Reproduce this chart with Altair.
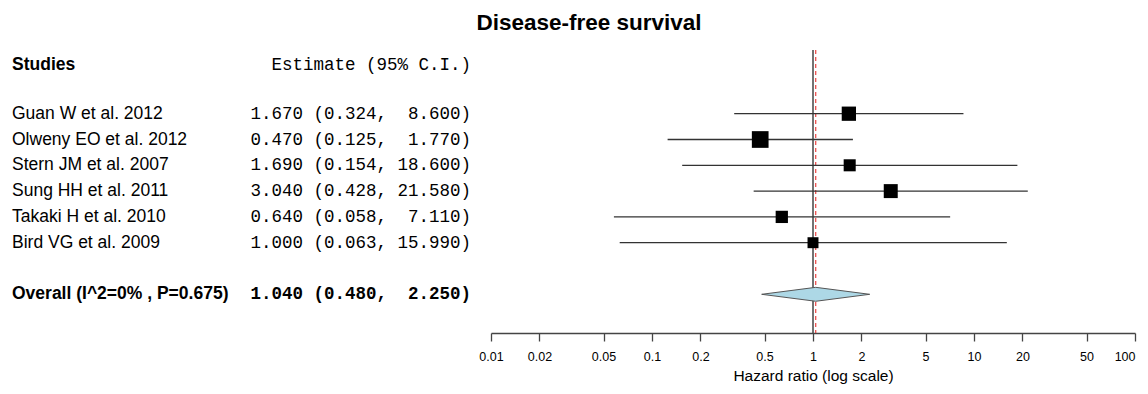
import altair as alt
import pandas as pd

studies = ["Guan W et al. 2012", "Olweny EO et al. 2012", "Stern JM et al. 2007",
           "Sung HH et al. 2011", "Takaki H et al. 2010", "Bird VG et al. 2009"]
estimate = [1.670, 0.470, 1.690, 3.040, 0.640, 1.000]
lower = [0.324, 0.125, 0.154, 0.428, 0.058, 0.063]
upper = [8.600, 1.770, 18.600, 21.580, 7.110, 15.990]
weight = [7.3, 10.0, 5.2, 7.0, 5.4, 4.3]

overall_label = "Overall (I^2=0% , P=0.675)"
overall_est, overall_lo, overall_hi = 1.040, 0.480, 2.250
overall_row = 7

ticks = [0.01, 0.02, 0.05, 0.1, 0.2, 0.5, 1, 2, 5, 10, 20, 50, 100]

NB = "\u00a0"


def ci_text(e, lo, hi):
    return f"{e:.3f} ({lo:.3f}, {hi:>6.3f})".replace(" ", NB)


df = pd.DataFrame({
    "study": studies, "est": estimate, "lo": lower, "hi": upper,
    "w": weight, "row": list(range(len(studies))),
})
df["ci"] = [ci_text(e, l, h) for e, l, h in zip(estimate, lower, upper)]

ov = pd.DataFrame({"study": [overall_label], "row": [overall_row],
                   "ci": [ci_text(overall_est, overall_lo, overall_hi)],
                   "est": [overall_est]})

dh = 0.27
diamond = pd.DataFrame({
    "x": [overall_lo, overall_est, overall_hi],
    "y1": [overall_row, overall_row - dh, overall_row],
    "y2": [overall_row, overall_row + dh, overall_row],
})

ref = pd.DataFrame({"x": [1.0]})

W, H = 1132, 325
xs = alt.Scale(type="log", domain=[0.01, 100], range=[483, 1127])
ys = alt.Scale(domain=[-4.097, 8.5], reverse=True, zero=False, nice=False)

SANS = "Liberation Sans"
MONO = "Liberation Mono"

xaxis = alt.Axis(values=ticks, format="~g", title="Hazard ratio (log scale)",
                 grid=False, tickSize=8, tickColor="#444", domainColor="#444",
                 domainWidth=1.3, tickWidth=1.3, labelFont=SANS, labelFontSize=12.5,
                 labelColor="#000", labelPadding=9, titleFont=SANS, titleFontSize=15.5,
                 titleFontWeight="normal", titleColor="#000", titlePadding=6,
                 labelFlush=False, labelOverlap=False,
                 labelAlign={"condition": {"test": "datum.value >= 99", "value": "right"},
                             "value": "center"})

base_x = alt.X("x:Q", scale=xs, axis=xaxis)

vline = alt.Chart(ref).mark_rule(color="#444", strokeWidth=1.5).encode(
    x=base_x, y=alt.value(42), y2=alt.value(H))

redline = alt.Chart(ov).mark_rule(color="#e8312f", strokeWidth=1.1, strokeDash=[4, 3]).encode(
    x=alt.X("est:Q", scale=xs), y=alt.value(42), y2=alt.value(H))

bars = alt.Chart(df).mark_rule(color="#333", strokeWidth=1.3).encode(
    x=alt.X("lo:Q", scale=xs), x2="hi:Q",
    y=alt.Y("row:Q", scale=ys, axis=None))

squares = alt.Chart(df).mark_square(color="#000", opacity=1, filled=True).encode(
    x=alt.X("est:Q", scale=xs),
    y=alt.Y("row:Q", scale=ys),
    size=alt.Size("w:Q", scale=alt.Scale(domain=[0, 10], range=[0, 279]), legend=None))

dia = alt.Chart(diamond).mark_area(color="#add8e6", stroke="#555", strokeWidth=1,
                                   opacity=1).encode(
    x=alt.X("x:Q", scale=xs), y=alt.Y("y1:Q", scale=ys), y2="y2:Q")

labels = alt.Chart(df).mark_text(align="left", baseline="middle", font=SANS,
                                 fontSize=17.5, color="#000").encode(
    x=alt.value(4), y=alt.Y("row:Q", scale=ys), text="study:N")

cis = alt.Chart(df).mark_text(align="right", baseline="middle", font=MONO,
                              fontSize=17.5, color="#000").encode(
    x=alt.value(463), y=alt.Y("row:Q", scale=ys), text="ci:N")

ov_label = alt.Chart(ov).mark_text(align="left", baseline="middle", font=SANS,
                                   fontSize=17.5, fontWeight="bold", color="#000").encode(
    x=alt.value(4), y=alt.Y("row:Q", scale=ys), text="study:N")

ov_ci = alt.Chart(ov).mark_text(align="right", baseline="middle", font=MONO,
                                fontSize=17.5, fontWeight="bold", color="#000").encode(
    x=alt.value(463), y=alt.Y("row:Q", scale=ys), text="ci:N")

hdr = pd.DataFrame({"t": ["Studies"]})
studies_hdr = alt.Chart(hdr).mark_text(align="left", baseline="middle", font=SANS,
                                       fontSize=17.5, fontWeight="bold", color="#000").encode(
    x=alt.value(4), y=alt.value(57), text="t:N")

est_hdr = alt.Chart(pd.DataFrame({"t": ["Estimate (95% C.I.)"]})).mark_text(
    align="right", baseline="middle", font=MONO, fontSize=17.5, color="#000").encode(
    x=alt.value(463), y=alt.value(57), text="t:N")

title = alt.Chart(pd.DataFrame({"t": ["Disease-free survival"]})).mark_text(
    align="center", baseline="middle", font=SANS, fontSize=22.5, fontWeight="bold",
    color="#000").encode(x=alt.value(581), y=alt.value(15), text="t:N")

chart = alt.layer(vline, redline, bars, squares, dia, labels, cis, ov_label, ov_ci,
                  studies_hdr, est_hdr, title).properties(
    width=W, height=H,
    background="white",
    autosize=alt.AutoSizeParams(type="none"),
    padding={"left": 0, "top": 0, "right": 0, "bottom": 53},
).configure_view(strokeWidth=0)

chart.save("out.html", embed_options={"renderer": "svg", "actions": False})
